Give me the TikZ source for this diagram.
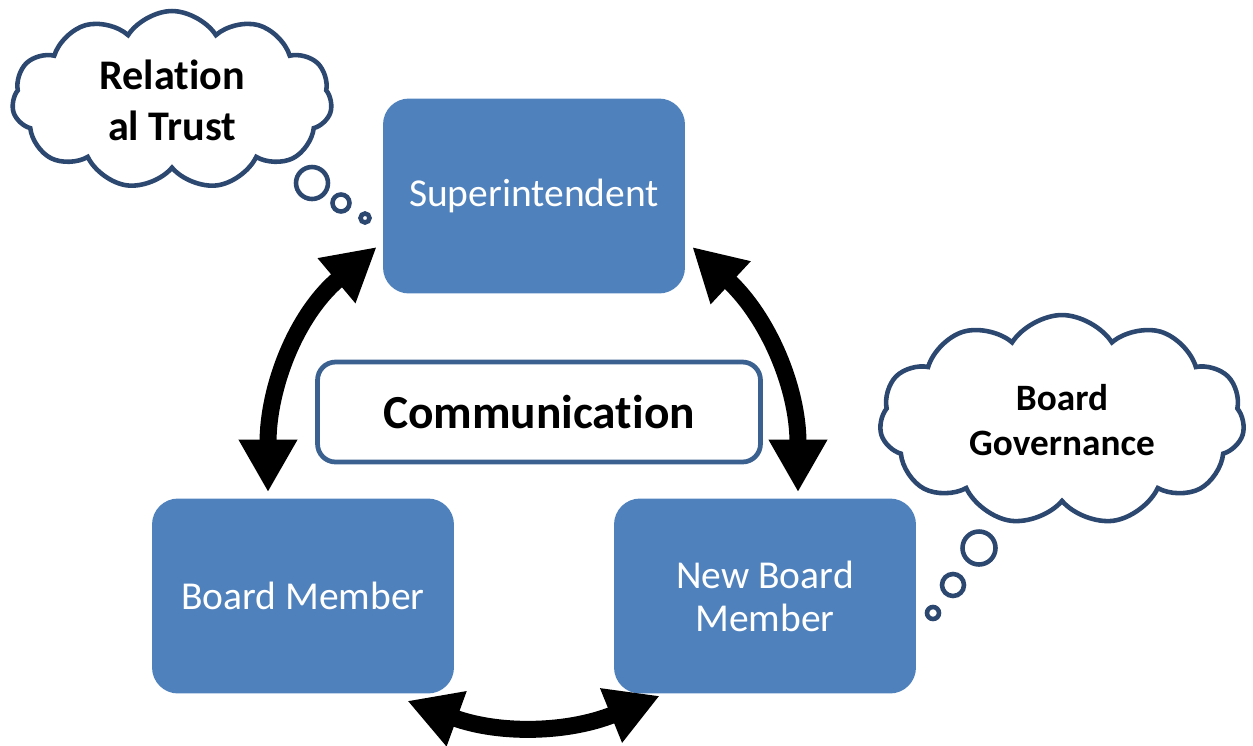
\documentclass[tikz,border=0pt]{standalone}
\usepackage{fontspec}
\setmainfont{Carlito}[Ligatures=NoCommon]
\usepackage{xcolor}
\usetikzlibrary{shapes.geometric, shapes.symbols, arrows.meta}
\definecolor{roleblue}{HTML}{4F81BD}
\definecolor{cloudline}{HTML}{2C4770}
\definecolor{commline}{HTML}{3B6190}
\tikzstyle{role} = [rectangle, rounded corners=0.52cm, minimum width=6.04cm,
minimum height=3.9cm, text centered, align=center, fill=roleblue, text=white,
font=\fontsize{22.5}{24.4}\selectfont]
\tikzstyle{topic} = [rectangle, rounded corners=0.36cm, minimum width=8.86cm,
minimum height=2.0cm, text centered, draw=commline, line width=2.7pt,
fill=white, font=\bfseries\fontsize{27}{32}\selectfont]
\tikzstyle{thought} = [cloud, cloud puffs=11, cloud puff arc=115,
cloud ignores aspect, draw=cloudline, line width=2.6pt, fill=white,
align=center, font=\bfseries\fontsize{24}{29}\selectfont]
\tikzstyle{bubble} = [circle, draw=cloudline, line width=2.6pt, inner sep=0pt]
\tikzstyle{link} = [line width=0.34cm,
{Triangle[width=1.1cm,length=1.05cm]}-{Triangle[width=1.1cm,length=1.05cm]}]

\begin{document}
\begin{tikzpicture}[x=0.02cm, y=0.02cm]
  \useasboundingbox (0,0) rectangle (1253,-745);
  % Nodes of the cycle
  \node (sup) [role] at (534,-196) {Superintendent};
  \node (bm) [role] at (303,-596) {Board Member};
  \node (nbm) [role] at (765,-596) {New Board\\Member};
  \node (comm) [topic] at (539,-412) {Communication};
  % Thoughts
  \node (trust) [thought, minimum width=6.4cm, minimum height=3.56cm]
        at (172,-100) {Relation\\al Trust};
  \node (tb1) [bubble, minimum size=0.64cm] at (312,-183) {};
  \node (tb2) [bubble, minimum size=0.34cm] at (341,-203) {};
  \node (tb3) [bubble, minimum size=0.18cm] at (365,-218) {};
  \node (gov) [thought, minimum width=7.3cm, minimum height=4.2cm,
        font=\bfseries\fontsize{21.2}{25.5}\selectfont]
        at (1062,-420) {Board\\Governance};
  \node (gb1) [bubble, minimum size=0.66cm] at (979,-548) {};
  \node (gb2) [bubble, minimum size=0.44cm] at (953,-585) {};
  \node (gb3) [bubble, minimum size=0.24cm] at (933,-613) {};
  % Connections
  \draw [link] ([shift={(-35,6)}]bm.north) to[out=90, in=220]
        ([shift={(-6,-51)}]sup.west);
  \draw [link] ([shift={(7,-51)}]sup.east) to[out=-43, in=90]
        ([shift={(33,6)}]nbm.north);
  \draw [link] ([shift={(-47,-7)}]bm.south east) to[out=-20, in=-158]
        ([shift={(46,-2)}]nbm.south west);
\end{tikzpicture}
\end{document}
